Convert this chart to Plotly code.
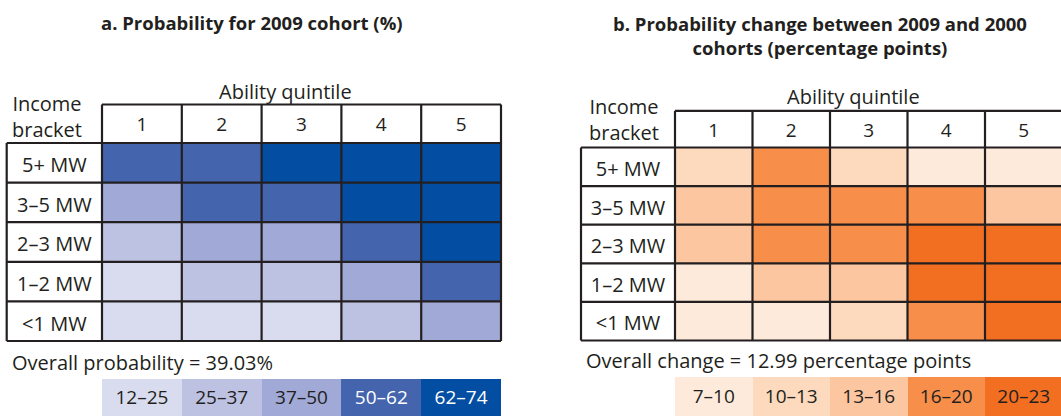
import plotly.graph_objects as go

W, H = 1061, 416
FONT = "Open Sans"
INK = "#231F20"

# ---- data -------------------------------------------------------------
quintiles = ["1", "2", "3", "4", "5"]
brackets = ["5+ MW", "3–5 MW", "2–3 MW", "1–2 MW", "<1 MW"]

# Panel a: colour class (1 = lowest) of each cell; rows follow `brackets`
prob_2009_class = [
    [4, 4, 5, 5, 5],
    [3, 4, 4, 5, 5],
    [2, 3, 3, 4, 5],
    [1, 2, 2, 3, 4],
    [1, 1, 1, 2, 3],
]
prob_ranges = ["12–25", "25–37", "37–50", "50–62", "62–74"]
prob_colors = ["#D9DCEF", "#BEC2E2", "#A1A9D6", "#4464AE", "#034EA2"]
prob_text_colors = [INK, INK, INK, "#FFFFFF", "#FFFFFF"]
prob_overall = 39.03

# Panel b: colour class of the 2000 -> 2009 change
change_class = [
    [2, 4, 2, 1, 1],
    [3, 4, 4, 4, 3],
    [3, 4, 4, 5, 5],
    [1, 3, 3, 5, 5],
    [1, 1, 2, 4, 5],
]
change_ranges = ["7–10", "10–13", "13–16", "16–20", "20–23"]
change_colors = ["#FDEADB", "#FDD9BD", "#FCC6A0", "#F78F4B", "#F26F21"]
change_text_colors = [INK] * 5
change_overall = 12.99


def discrete_scale(colors):
    n = len(colors)
    scale = []
    for i, c in enumerate(colors):
        scale.append([i / n, c])
        scale.append([(i + 1) / n, c])
    return scale


fig = go.Figure()


def add_panel(k, classes, ranges, colors, text_colors, title, title_y,
              overall_text, g):
    """Draw one table panel on axes pair number k using pixel geometry g."""
    xa = "x" if k == 1 else f"x{k}"
    ya = "y" if k == 1 else f"y{k}"

    def ux(px):  # pixel -> column units
        return -0.5 + (px - g["col_left"]) / g["cw"]

    def uy(py):  # pixel -> row units
        return -0.5 + (py - g["row_top"]) / g["rh"]

    ncol = len(quintiles)
    nrow = len(brackets)
    xe = [i - 0.5 for i in range(ncol + 1)]
    ye = [j - 0.5 for j in range(nrow + 1)]
    lab_left = ux(g["lab_left"])
    hdr_top = uy(g["hdr_top"])
    leg_top, leg_bot = uy(g["leg_top"]), uy(g["leg_bot"])
    scale = discrete_scale(colors)

    # table body
    fig.add_trace(go.Heatmap(
        z=classes, x=xe, y=ye, colorscale=scale, zmin=0.5,
        zmax=len(colors) + 0.5, showscale=False, hoverinfo="skip",
        xaxis=xa, yaxis=ya))
    # colour key
    fig.add_trace(go.Heatmap(
        z=[list(range(1, len(colors) + 1))], x=xe, y=[leg_top, leg_bot],
        colorscale=scale, zmin=0.5, zmax=len(colors) + 0.5,
        showscale=False, hoverinfo="skip", xaxis=xa, yaxis=ya))

    # grid lines
    lx, ly = [], []
    lx += [xe[0], xe[-1], None]
    ly += [hdr_top, hdr_top, None]
    for yv in ye:
        lx += [lab_left, xe[-1], None]
        ly += [yv, yv, None]
    lx += [lab_left, lab_left, None]
    ly += [ye[0], ye[-1], None]
    for xv in xe:
        lx += [xv, xv, None]
        ly += [hdr_top, ye[-1], None]
    fig.add_trace(go.Scatter(
        x=lx, y=ly, mode="lines", line=dict(color=INK, width=2.2),
        hoverinfo="skip", xaxis=xa, yaxis=ya))

    wfont = dict(family=FONT, size=g["fs"], color=INK)
    nfont = dict(family=FONT, size=g["nfs"], color=INK)
    # column headers
    fig.add_trace(go.Scatter(
        x=list(range(ncol)),
        y=[(hdr_top + ye[0]) / 2 + g["dy_hdr"]] * ncol,
        text=quintiles, mode="text", textfont=nfont, hoverinfo="skip",
        xaxis=xa, yaxis=ya))
    # row labels
    fig.add_trace(go.Scatter(
        x=[(lab_left + xe[0]) / 2] * nrow,
        y=[j + g["dy_row"] for j in range(nrow)],
        text=brackets, mode="text", textfont=wfont, hoverinfo="skip",
        xaxis=xa, yaxis=ya))
    # key labels
    fig.add_trace(go.Scatter(
        x=list(range(ncol)),
        y=[(leg_top + leg_bot) / 2 + g["dy_leg"]] * ncol,
        text=ranges, mode="text",
        textfont=dict(family=FONT, size=g["nfs"], color=text_colors),
        hoverinfo="skip", xaxis=xa, yaxis=ya))

    dom = [g["dom_left"] / W, g["dom_right"] / W]
    xkey = "xaxis" if k == 1 else f"xaxis{k}"
    ykey = "yaxis" if k == 1 else f"yaxis{k}"
    fig.update_layout({
        xkey: dict(domain=dom, range=[ux(g["dom_left"]), ux(g["dom_right"])],
                   visible=False, fixedrange=True, anchor=ya),
        ykey: dict(domain=[0, 1], range=[uy(H), uy(0)], visible=False,
                   fixedrange=True, anchor=xa),
    })

    def ann(text, px, py, size, bold=False, xanchor="center"):
        fig.add_annotation(
            text=f"<b>{text}</b>" if bold else text,
            x=px / W, y=1 - py / H, xref="paper", yref="paper",
            xanchor=xanchor, yanchor="middle", showarrow=False,
            align="center", font=dict(family=FONT, size=size, color=INK))

    ann(title, g["title_x"], title_y, g["tfs"], bold=True)
    ann("Ability quintile", g["aq_x"], g["aq_y"], g["fs"])
    ann("Income<br>bracket", g["ib_x"], g["ib_y"], g["fs"])
    ann(overall_text, g["ov_x"], g["ov_y"], g["fs"], xanchor="left")


geom_a = dict(dom_left=0, dom_right=530, lab_left=6.7, col_left=102, cw=79.8,
              hdr_top=104.5, row_top=143, rh=39.6, leg_top=379, leg_bot=417,
              fs=20, nfs=19, tfs=18.5, dy_hdr=0.07, dy_row=0.11, dy_leg=0.03,
              title_x=252, aq_x=285, aq_y=91, ib_x=47, ib_y=116,
              ov_x=10, ov_y=362)
geom_b = dict(dom_left=530, dom_right=1061, lab_left=581, col_left=675,
              cw=77.5, hdr_top=110.8, row_top=147.5, rh=38.6, leg_top=377,
              leg_bot=417, fs=20, nfs=19, tfs=18.5, dy_hdr=0.07, dy_row=0.11,
              dy_leg=0.03, title_x=820, aq_x=853, aq_y=97, ib_x=624,
              ib_y=119.5, ov_x=584, ov_y=360)

add_panel(1, prob_2009_class, prob_ranges, prob_colors, prob_text_colors,
          "a. Probability for 2009 cohort (%)", 22,
          f"Overall probability = {prob_overall:.2f}%", geom_a)
add_panel(2, change_class, change_ranges, change_colors, change_text_colors,
          "b. Probability change between 2009 and 2000<br>cohorts (percentage points)",
          35.5, f"Overall change = {change_overall:.2f} percentage points",
          geom_b)

fig.update_layout(
    width=W, height=H, margin=dict(l=0, r=0, t=0, b=0),
    paper_bgcolor="white", plot_bgcolor="white", showlegend=False,
)

fig.write_html("out.html", config={"displayModeBar": False})
